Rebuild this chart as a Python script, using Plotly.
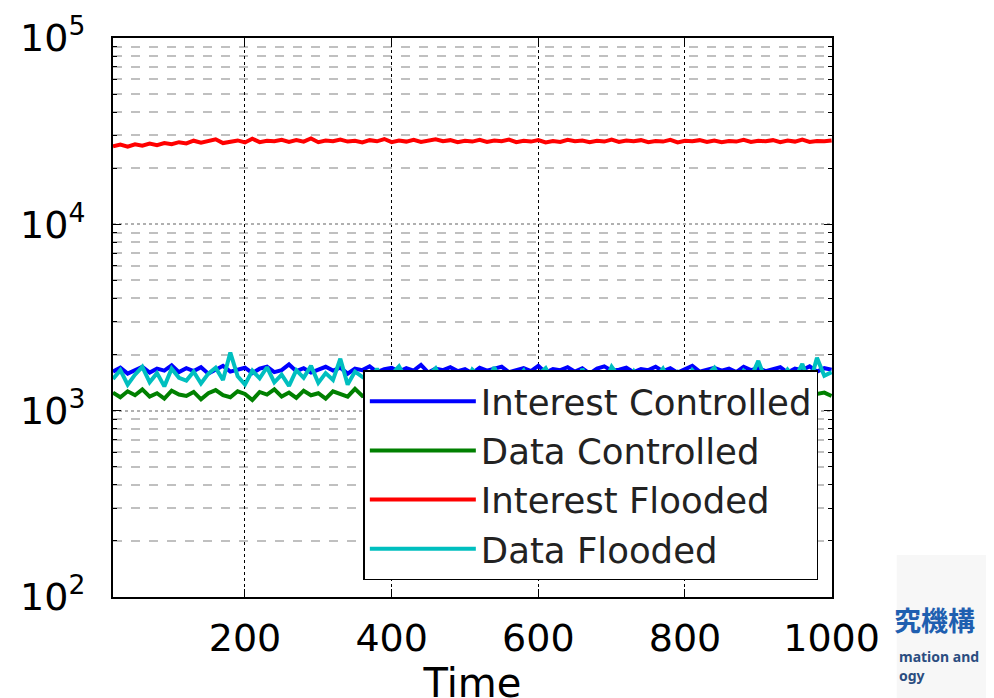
import plotly.graph_objects as go

TIME = list(range(20, 1001, 10))

interest_controlled = [1620,1700,1580,1660,1720,1600,1680,1640,1750,1610,
    1690,1630,1710,1580,1670,1740,1620,1660,1700,1590,
    1680,1720,1610,1650,1770,1630,1690,1600,1660,1720,
    1640,1700,1580,1680,1650,1730,1610,1670,1700,1620,
    1690,1640,1760,1600,1680,1650,1710,1630,1670,1590,
    1700,1640,1680,1720,1610,1660,1690,1630,1740,1600,
    1670,1650,1710,1620,1690,1580,1680,1730,1640,1660,
    1700,1610,1670,1650,1720,1630,1690,1600,1680,1740,
    1620,1660,1700,1640,1680,1610,1720,1650,1690,1630,
    1670,1710,1600,1680,1650,1730,1620,1690,1660]

data_controlled = [1250,1180,1270,1210,1300,1190,1240,1160,1280,1220,
    1200,1260,1150,1240,1290,1210,1180,1270,1230,1140,
    1260,1220,1300,1190,1250,1170,1280,1210,1240,1160,
    1270,1230,1190,1310,1200,1250,1130,1260,1220,1180,
    1290,1210,1240,1170,1270,1230,1190,1250,1150,1280,
    1220,1260,1200,1240,1300,1180,1230,1270,1160,1250,
    1210,1280,1190,1240,1220,1170,1260,1230,1290,1200,
    1250,1180,1270,1210,1240,1160,1280,1220,1190,1260,
    1230,1300,1200,1250,1170,1270,1210,1240,1190,1280,
    1220,1260,1180,1240,1210,1290,1230,1250,1200]

interest_flooded = [26200,26800,26100,26900,26400,27100,26600,27300,26900,27600,
    27200,28100,27400,27900,28600,27300,27800,28200,27500,28800,
    27600,28100,27900,28400,27700,28300,27800,28900,27600,28200,
    27900,28500,27800,28100,27500,28300,27900,28700,27600,28200,
    27800,28400,27700,28100,28600,27900,28300,27600,28100,27800,
    28400,27700,28200,27900,28500,27600,28100,27800,28300,27500,
    28000,27700,28400,27900,28200,27600,28100,27800,28500,27700,
    28200,27900,28300,27600,28000,27800,28400,27500,28100,27900,
    28300,27700,28200,27600,28000,27800,28400,27700,28100,27900,
    28300,27600,28200,27800,28500,27700,28000,27900,28200]

data_flooded = [1480,1650,1380,1560,1720,1420,1590,1350,1680,1500,
    1450,1620,1400,1580,1700,1460,2050,1530,1380,1640,
    1490,1710,1420,1560,1360,1650,1500,1740,1410,1590,
    1460,1900,1380,1620,1520,1440,1680,1390,1570,1730,
    1470,1600,1360,1550,1690,1430,1580,1500,1370,1660,
    1520,1450,1710,1400,1590,1480,1640,1370,1560,1690,
    1430,1600,1500,1380,1670,1460,1580,1410,1720,1520,
    1450,1630,1390,1570,1500,1680,1420,1600,1360,1650,
    1480,1560,1700,1430,1590,1380,1640,1510,1850,1460,
    1570,1420,1660,1500,1780,1390,1920,1540,1610]

SERIES_NAMES = ["Interest Controlled", "Data Controlled", "Interest Flooded", "Data Flooded"]
SERIES_COLORS = ["#0000ff", "#008000", "#ff0000", "#00bfbf"]
SERIES_VALUES = [interest_controlled, data_controlled, interest_flooded, data_flooded]

X_TICKS = [200, 400, 600, 800, 1000]
Y_TICKS = [100, 1000, 10000, 100000]
Y_TICKTEXT = ["10<sup>2</sup>", "10<sup>3</sup>", "10<sup>4</sup>", "10<sup>5</sup>"]

FONT = "DejaVu Sans"

fig = go.Figure()
for name, color, vals in zip(SERIES_NAMES, SERIES_COLORS, SERIES_VALUES):
    fig.add_trace(go.Scatter(x=TIME, y=vals, mode="lines", name=name,
                             line=dict(color=color, width=4)))

minor_vals = [m * 10 ** e for e in (2, 3, 4) for m in range(2, 10)]

fig.update_layout(
    width=994, height=698,
    margin=dict(l=105, r=170, t=30, b=109, autoexpand=False),
    paper_bgcolor="white", plot_bgcolor="white",
    font=dict(family=FONT, color="black", size=38),
    showlegend=True,
    legend=dict(
        x=0.981, y=0.03, xanchor="right", yanchor="bottom",
        bgcolor="white", bordercolor="black", borderwidth=1.5,
        font=dict(size=35.5, family=FONT, color="#222222"),
        itemwidth=106, tracegroupgap=0,
    ),
    xaxis=dict(
        range=[20, 1000.5], tickvals=X_TICKS, ticks="inside", ticklen=8,
        tickcolor="black", showline=True, linecolor="black", linewidth=2,
        mirror="ticks", showgrid=True, gridcolor="black", griddash="dot",
        gridwidth=1, zeroline=False, tickfont=dict(size=38, family=FONT),
        ticklabelstandoff=6, automargin=False,
        title=dict(text="Time", font=dict(size=40, family=FONT), standoff=10),
    ),
    yaxis=dict(
        type="log", range=[2, 5], tickvals=Y_TICKS, ticktext=Y_TICKTEXT,
        ticks="inside", ticklen=8, tickcolor="black", showline=True,
        linecolor="black", linewidth=2, mirror="ticks", showgrid=True,
        gridcolor="#b0b0b0", griddash="dot", gridwidth=1.5,
        tickfont=dict(size=38, family=FONT), ticklabelstandoff=18,
        automargin=False,
        minor=dict(tickvals=minor_vals, ticks="inside", ticklen=4,
                   tickcolor="black", showgrid=True, gridcolor="#c0c0c0",
                   griddash="dash", gridwidth=1.5),
    ),
)

# light backdrop and partial logo text at lower right (as in the source image)
fig.add_shape(type="rect", xref="paper", yref="paper", x0=1.09, x1=1.3,
              y0=-0.2, y1=0.075, fillcolor="#f7f7f7", line=dict(width=0), layer="below")
fig.add_annotation(xref="paper", yref="paper", x=1.083, y=-0.041, xanchor="left",
                   yanchor="middle", showarrow=False, text="<b>究機構</b>",
                   font=dict(family="Noto Sans CJK JP", size=27, color="#1f5fb0"))
fig.add_annotation(xref="paper", yref="paper", x=1.09, y=-0.107, xanchor="left",
                   yanchor="middle", showarrow=False, text="<b>mation and</b>",
                   font=dict(family="Noto Sans", size=14, color="#2b4d80"))
fig.add_annotation(xref="paper", yref="paper", x=1.09, y=-0.141, xanchor="left",
                   yanchor="middle", showarrow=False, text="<b>ogy</b>",
                   font=dict(family="Noto Sans", size=14, color="#2b4d80"))

fig.write_html("out.html")
